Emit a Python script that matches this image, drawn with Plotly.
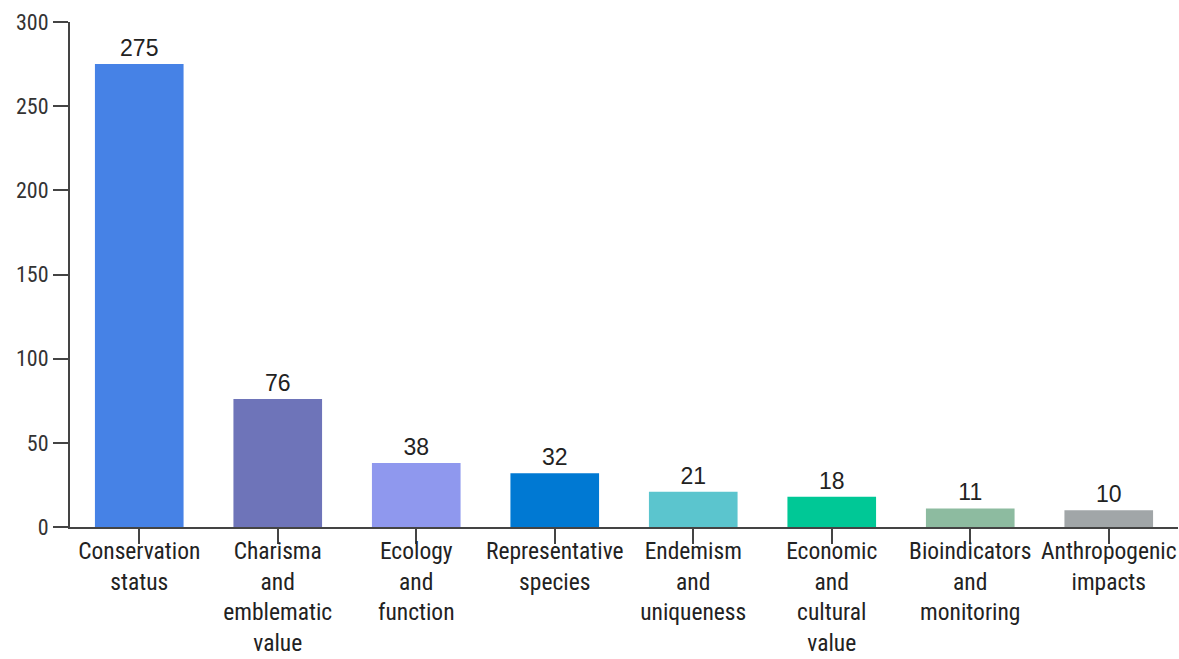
import plotly.graph_objects as go

categories = ["Conservation<br>status", "Charisma<br>and<br>emblematic<br>value", "Ecology<br>and<br>function",
              "Representative<br>species", "Endemism<br>and<br>uniqueness", "Economic<br>and<br>cultural<br>value",
              "Bioindicators<br>and<br>monitoring", "Anthropogenic<br>impacts"]
values = [275, 76, 38, 32, 21, 18, 11, 10]
colors = ["#4682E6", "#6E74B9", "#8F98EE", "#0079D3", "#5BC5CE", "#00C896", "#8DBBA0", "#A1A6A8"]
y_ticks = [0, 50, 100, 150, 200, 250, 300]

cond_font = "Liberation Sans Narrow, Roboto Condensed, Arial Narrow, Roboto, sans-serif"

fig = go.Figure(go.Bar(
    x=categories, y=values,
    marker=dict(color=colors, line=dict(width=0)),
    text=[str(v) for v in values], textposition="outside",
    textfont=dict(family="Liberation Sans, Arial, sans-serif", size=23, color="#222"),
    cliponaxis=False,
))

fig.update_layout(
    width=1179, height=659,
    margin=dict(l=70, r=1, t=22, b=132),
    paper_bgcolor="white", plot_bgcolor="white",
    bargap=0.36,
    showlegend=False,
    xaxis=dict(showline=True, linecolor="#444", linewidth=2, ticks="outside", ticklen=15,
               tickwidth=2, tickcolor="#444", showgrid=False, automargin=False,
               ticklabelstandoff=-13,
               tickfont=dict(family=cond_font, size=23.5, color="#222")),
    yaxis=dict(range=[0, 300], tickvals=y_ticks, showline=True, linecolor="#444", linewidth=2,
               ticks="outside", ticklen=15, tickwidth=2, tickcolor="#444", showgrid=False,
               zeroline=False, automargin=False,
               tickfont=dict(family=cond_font, size=22, color="#333")),
)

fig.write_html("out.html")
